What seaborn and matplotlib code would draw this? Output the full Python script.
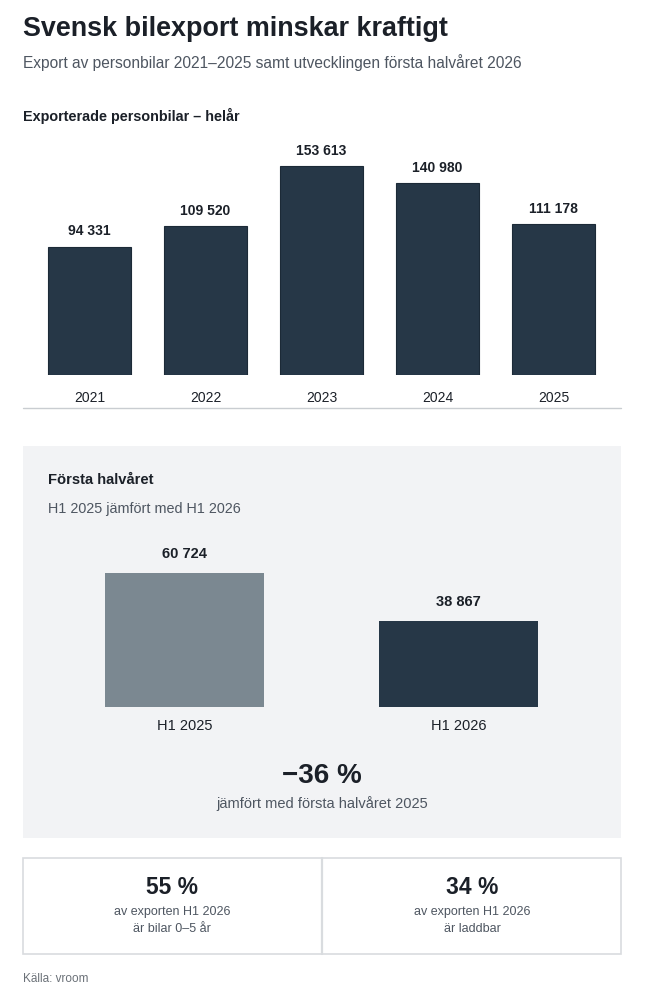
import matplotlib
matplotlib.use("Agg")
import matplotlib.pyplot as plt
from matplotlib.patches import Rectangle
from matplotlib.lines import Line2D
import seaborn as sns
import pandas as pd

# ---- data ----
years = ["2021", "2022", "2023", "2024", "2025"]
exports = [94331, 109520, 153613, 140980, 111178]
h1_labels = ["H1 2025", "H1 2026"]
h1_values = [60724, 38867]
change_text = "\u221236 %"
kpi_values = ["55 %", "34 %"]
kpi_line1 = ["av exporten H1 2026", "av exporten H1 2026"]
kpi_line2 = ["är bilar 0–5 år", "är laddbar"]

title = "Svensk bilexport minskar kraftigt"
subtitle = "Export av personbilar 2021–2025 samt utvecklingen första halvåret 2026"
section1 = "Exporterade personbilar – helår"
section2 = "Första halvåret"
section2_sub = "H1 2025 jämfört med H1 2026"
change_sub = "jämfört med första halvåret 2025"
source = "Källa: vroom"

# ---- style ----
sns.set_theme(style="white")
plt.rcParams["font.family"] = ["Liberation Sans", "DejaVu Sans"]

DARK = "#263747"
GREY_BAR = "#7b8891"
TEXT = "#1b2028"
SUB = "#4e5661"
PANEL = "#f2f3f5"
BORDER = "#d9dcdf"

W, H = 646, 1000
fig = plt.figure(figsize=(W / 100, H / 100), dpi=100)
fig.patch.set_facecolor("white")


def fx(x):
    return x / W


def fy(y):
    return 1 - y / H


def fmt(v):
    return f"{v:,}".replace(",", " ")


# ---- header texts ----
fig.text(fx(23), fy(29), title, fontsize=19.4, fontweight="bold", color=TEXT, va="center", ha="left")
fig.text(fx(23), fy(63), subtitle, fontsize=11.2, color=SUB, va="center", ha="left")
fig.text(fx(23), fy(116), section1, fontsize=10.4, fontweight="bold", color=TEXT, va="center", ha="left")

# ---- chart 1 ----
scale1 = 0.001355  # px per unit
base1, top1 = 374.5, 140
ax1 = fig.add_axes([fx(31.5), fy(base1), (611.5 - 31.5) / W, (base1 - top1) / H])
df1 = pd.DataFrame({"year": years, "value": exports})
sns.barplot(data=df1, x="year", y="value", ax=ax1, color=DARK, saturation=1,
            width=0.72, edgecolor="#1c2a37", linewidth=0.8)
ax1.set_ylim(0, (base1 - top1) / scale1)
ax1.set_xlim(-0.5, len(years) - 0.5)
for c in ax1.containers:
    ax1.bar_label(c, labels=[fmt(v) for v in exports], padding=6, fontsize=10,
                  fontweight="bold", color=TEXT)
ax1.set_xlabel("")
ax1.set_ylabel("")
ax1.set_yticks([])
ax1.tick_params(axis="x", length=0, pad=12, labelsize=10, labelcolor=TEXT)
ax1.patch.set_alpha(0)
sns.despine(ax=ax1, left=True, bottom=True)

fig.add_artist(Line2D([fx(23), fx(621)], [fy(408), fy(408)], color="#c9cdd1", lw=1))

# ---- panel 2 ----
fig.add_artist(Rectangle((fx(23), fy(838)), (621 - 23) / W, (838 - 446) / H,
                         facecolor=PANEL, edgecolor="none", zorder=0))
fig.text(fx(48), fy(480), section2, fontsize=10.6, fontweight="bold", color=TEXT, va="center", ha="left")
fig.text(fx(48), fy(509), section2_sub, fontsize=10.35, color=SUB, va="center", ha="left")

scale2 = 0.002207
base2, top2 = 707, 540
ax2 = fig.add_axes([fx(47.5), fy(base2), (595.5 - 47.5) / W, (base2 - top2) / H])
df2 = pd.DataFrame({"period": h1_labels, "value": h1_values})
sns.barplot(data=df2, x="period", y="value", hue="period", palette=[GREY_BAR, DARK],
            legend=False, ax=ax2, saturation=1, width=0.58, edgecolor="none")
ax2.set_ylim(0, (base2 - top2) / scale2)
ax2.set_xlim(-0.5, len(h1_labels) - 0.5)
for c, v in zip(ax2.containers, h1_values):
    ax2.bar_label(c, labels=[fmt(v)], padding=8.5, fontsize=10.5, fontweight="bold", color=TEXT)
ax2.set_xlabel("")
ax2.set_ylabel("")
ax2.set_yticks([])
ax2.tick_params(axis="x", length=0, pad=9, labelsize=10.5, labelcolor=TEXT)
ax2.patch.set_alpha(0)
sns.despine(ax=ax2, left=True, bottom=True)

fig.text(fx(322), fy(776), change_text, fontsize=20, fontweight="bold", color=TEXT, va="center", ha="center")
fig.text(fx(322), fy(804), change_sub, fontsize=10.5, color=SUB, va="center", ha="center")

# ---- KPI boxes ----
fig.add_artist(Rectangle((fx(23), fy(954)), (621 - 23) / W, (954 - 858) / H,
                         facecolor="white", edgecolor=BORDER, lw=1.2))
fig.add_artist(Line2D([fx(322), fx(322)], [fy(858), fy(954)], color=BORDER, lw=1.6))
for cx, kv, l1, l2 in zip([172, 472], kpi_values, kpi_line1, kpi_line2):
    fig.text(fx(cx), fy(887), kv, fontsize=16.5, fontweight="bold", color=TEXT, va="center", ha="center")
    fig.text(fx(cx), fy(912), l1, fontsize=9, color=SUB, va="center", ha="center")
    fig.text(fx(cx), fy(929), l2, fontsize=9, color=SUB, va="center", ha="center")

fig.text(fx(23), fy(979), source, fontsize=8.5, color="#6b7178", va="center", ha="left")

fig.savefig("out.png", dpi=100, facecolor="white")
